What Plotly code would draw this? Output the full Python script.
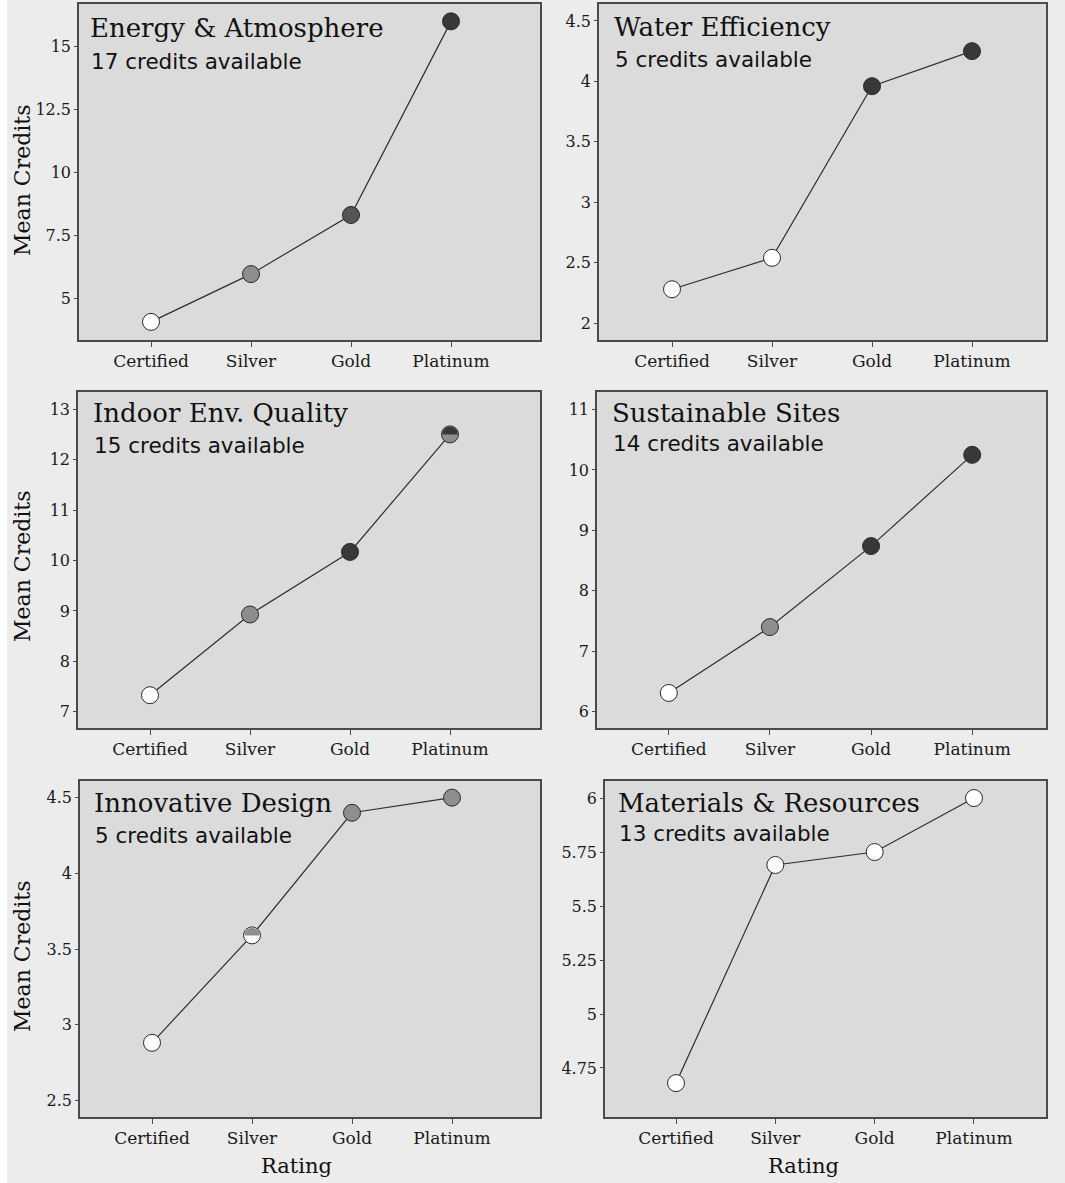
import math
import plotly.graph_objects as go

# ---------------- data ----------------
categories = ["Certified", "Silver", "Gold", "Platinum"]

panel_titles = ["Energy & Atmosphere", "Water Efficiency", "Indoor Env. Quality",
                "Sustainable Sites", "Innovative Design", "Materials & Resources"]
credits_available = [17, 5, 15, 14, 5, 13]

energy_atmosphere = [4.05, 5.95, 8.3, 16.0]
water_efficiency = [2.28, 2.54, 3.96, 4.25]
indoor_env_quality = [7.33, 8.93, 10.17, 12.5]
sustainable_sites = [6.31, 7.40, 8.74, 10.25]
innovative_design = [2.88, 3.59, 4.40, 4.50]
materials_resources = [4.68, 5.69, 5.75, 6.0]

ticks_energy = [5, 7.5, 10, 12.5, 15]
ticks_water = [2, 2.5, 3, 3.5, 4, 4.5]
ticks_indoor = [7, 8, 9, 10, 11, 12, 13]
ticks_sites = [6, 7, 8, 9, 10, 11]
ticks_innov = [2.5, 3, 3.5, 4, 4.5]
ticks_materials = [4.75, 5, 5.25, 5.5, 5.75, 6]

labels_energy = ["5", "7.5", "10", "12.5", "15"]
labels_water = ["2", "2.5", "3", "3.5", "4", "4.5"]
labels_indoor = ["7", "8", "9", "10", "11", "12", "13"]
labels_sites = ["6", "7", "8", "9", "10", "11"]
labels_innov = ["2.5", "3", "3.5", "4", "4.5"]
labels_materials = ["4.75", "5", "5.25", "5.5", "5.75", "6"]

# ---------------- styling ----------------
W, H = 1065, 1183
WHITE, GRAY, DARK, DARK2 = "#ffffff", "#8e8e8e", "#383838", "#555555"
# (top colour, bottom colour) per marker; equal -> plain marker
marker_fills = [
    [(WHITE, WHITE), (GRAY, GRAY), (DARK2, DARK2), (DARK, DARK)],
    [(WHITE, WHITE), (WHITE, WHITE), (DARK, DARK), (DARK, DARK)],
    [(WHITE, WHITE), (GRAY, GRAY), (DARK, DARK), (DARK, GRAY)],
    [(WHITE, WHITE), (GRAY, GRAY), (DARK, DARK), (DARK, DARK)],
    [(WHITE, WHITE), (GRAY, WHITE), (GRAY, GRAY), (GRAY, GRAY)],
    [(WHITE, WHITE), (WHITE, WHITE), (WHITE, WHITE), (WHITE, WHITE)],
]

series = [energy_atmosphere, water_efficiency, indoor_env_quality,
          sustainable_sites, innovative_design, materials_resources]
tickvals = [ticks_energy, ticks_water, ticks_indoor, ticks_sites, ticks_innov, ticks_materials]
ticktexts = [labels_energy, labels_water, labels_indoor, labels_sites, labels_innov, labels_materials]

# pixel boxes of plot areas (left, right, top, bottom)
boxes = [(79, 540, 4, 340), (599, 1046, 4, 340),
         (78, 540, 392, 728), (597, 1046, 392, 728),
         (80, 540, 781, 1117), (605, 1046, 781, 1117)]
xranges = [(-0.72, 3.89), (-0.73, 3.74), (-0.72, 3.90),
           (-0.71, 3.73), (-0.72, 3.88), (-0.715, 3.725)]
yranges = [(3.33, 16.69), (1.86, 4.64), (6.68, 13.34),
           (5.73, 11.29), (2.39, 4.61), (4.523, 6.079)]
title_pos = [(88, 28, 62), (612, 27, 60), (91, 413, 445),
             (610, 413, 443), (92, 803, 835), (616, 803, 833)]

SERIF = "DejaVu Serif"
SANS = "DejaVu Sans"
MSIZE = 17

fig = go.Figure()
annotations = []

for i in range(6):
    ax = "" if i == 0 else str(i + 1)
    xa, ya = "x" + ax, "y" + ax
    l, r, t, b = boxes[i]
    xs = list(range(len(categories)))
    ys = series[i]
    fig.add_trace(go.Scatter(
        x=xs, y=ys, mode="lines", xaxis=xa, yaxis=ya,
        line=dict(color="#2e2e2e", width=1.2), showlegend=False, hoverinfo="skip"))
    fig.add_trace(go.Scatter(
        x=xs, y=ys, mode="markers", xaxis=xa, yaxis=ya,
        marker=dict(size=MSIZE, color=[c[1] for c in marker_fills[i]],
                    line=dict(color="#2a2a2a", width=1)),
        showlegend=False, hovertext=categories))
    # half-filled markers: draw upper half disc in top colour
    sx = (r - l) / (xranges[i][1] - xranges[i][0])
    sy = (b - t) / (yranges[i][1] - yranges[i][0])
    rad = MSIZE / 2 - 0.8
    for k, (top, bot) in enumerate(marker_fills[i]):
        if top != bot:
            px, py = [], []
            for s in range(41):
                ang = math.pi * s / 40
                px.append(xs[k] + rad * math.cos(ang) / sx)
                py.append(ys[k] + rad * math.sin(ang) / sy)
            fig.add_trace(go.Scatter(
                x=px, y=py, mode="lines", fill="toself", fillcolor=top,
                line=dict(width=0, color=top), xaxis=xa, yaxis=ya,
                showlegend=False, hoverinfo="skip"))

    axis_common = dict(showline=True, linecolor="#4a4a4a", linewidth=1.5, mirror=True,
                       showgrid=False, zeroline=False, ticks="outside",
                       tickcolor="#4a4a4a", automargin=False)
    fig.layout["xaxis" + ax] = dict(
        axis_common, domain=[l / W, r / W], range=list(xranges[i]),
        tickvals=xs, ticktext=categories, ticklen=5, anchor=ya,
        tickfont=dict(family=SERIF, size=17, color="#1a1a1a"))
    fig.layout["yaxis" + ax] = dict(
        axis_common, domain=[1 - b / H, 1 - t / H], range=list(yranges[i]),
        tickvals=tickvals[i], ticktext=ticktexts[i], ticklen=3, anchor=xa,
        tickfont=dict(family=SERIF, size=16, color="#1a1a1a"))

    tx, ty1, ty2 = title_pos[i]
    annotations.append(dict(
        text=panel_titles[i], x=tx / W, y=1 - ty1 / H, xref="paper", yref="paper",
        xanchor="left", yanchor="middle", showarrow=False,
        font=dict(family=SERIF, size=26, color="#111111")))
    annotations.append(dict(
        text=f"{credits_available[i]} credits available", x=(tx + 1) / W, y=1 - ty2 / H,
        xref="paper", yref="paper", xanchor="left", yanchor="middle", showarrow=False,
        font=dict(family=SANS, size=21.5, color="#111111")))

for cy in (181, 567, 957):
    annotations.append(dict(
        text="Mean Credits", x=22 / W, y=1 - cy / H, xref="paper", yref="paper",
        xanchor="center", yanchor="middle", textangle=-90, showarrow=False,
        font=dict(family=SERIF, size=22, color="#111111")))
for cx in (296, 803):
    annotations.append(dict(
        text="Rating", x=cx / W, y=1 - 1166 / H, xref="paper", yref="paper",
        xanchor="center", yanchor="middle", showarrow=False,
        font=dict(family=SERIF, size=21, color="#111111")))

fig.update_layout(
    width=W, height=H, margin=dict(l=0, r=0, t=0, b=0),
    paper_bgcolor="#ececec", plot_bgcolor="#dbdbdb",
    annotations=annotations, showlegend=False,
)
fig.add_shape(type="rect", xref="paper", yref="paper", x0=0, x1=7 / W, y0=0, y1=1,
              fillcolor="#ffffff", line=dict(width=0), layer="below")

fig.write_html("out.html", config={"displayModeBar": False},
               post_script="document.body.style.margin='0';document.body.style.overflow='hidden';")
